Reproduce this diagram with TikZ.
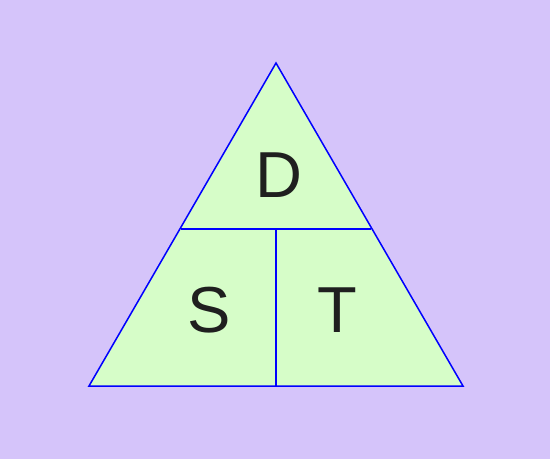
\documentclass[tikz,border=0pt]{standalone}
\usepackage{fontspec}
\setmainfont{Liberation Sans}
\definecolor{bgc}{RGB}{213,196,250}
\definecolor{fillc}{RGB}{214,253,200}
\definecolor{linec}{RGB}{0,0,255}
\tikzset{lbl/.style={anchor=base,inner sep=0pt,text=black!88,font=\fontsize{65}{70}\selectfont},
edge/.style={draw=linec,line width=1.5pt}}
\begin{document}
\begin{tikzpicture}[x=1pt,y=-1pt]
\fill[bgc] (0,0) rectangle (550,459);
\useasboundingbox (0,0) rectangle (550,459);
\coordinate (A) at (276,63);
\coordinate (B) at (89,386);
\coordinate (C) at (463,386);
\coordinate (L) at (180.6,229);
\coordinate (R) at (371.4,229);
\coordinate (M) at (276,229);
\coordinate (Mb) at (276,386);
\fill[fillc] (A) -- (B) -- (C) -- cycle;
\draw[edge,line join=miter] (A) -- (B) -- (C) -- cycle;
\draw[edge] (L) -- (R);
\draw[edge] (M) -- (Mb);
\node[lbl] (d) at (278.5,197) {D};
\node[lbl] (s) at (209.5,332.5) {S};
\node[lbl] (t) at (337,332.5) {T};
\end{tikzpicture}
\end{document}
